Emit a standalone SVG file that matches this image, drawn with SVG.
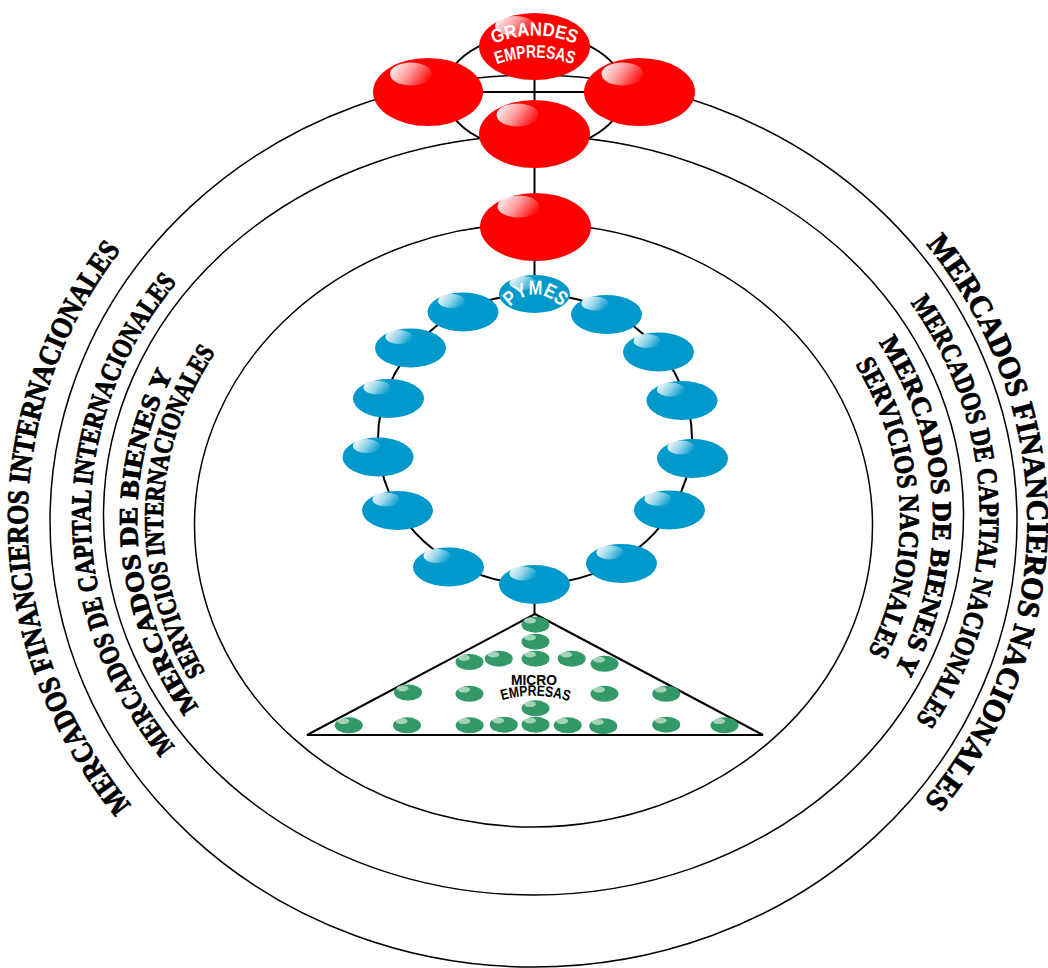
<svg xmlns="http://www.w3.org/2000/svg" width="1048" height="968" viewBox="0 0 1048 968">
<style>
.ring{fill:none;stroke:#000;stroke-width:1.5}
.conn{fill:none;stroke:#000;stroke-width:2}
.red{fill:#ff0000}
.blue{fill:#0099cc}
.green{fill:#339966}
.hl{fill:url(#hlg)}
.mkt{font-family:"Liberation Serif","Times New Roman",serif;font-weight:bold;fill:#000;stroke:#000;stroke-width:0.9;stroke-linejoin:round}
.lab{font-family:"Liberation Sans",Arial,sans-serif;font-weight:bold}
</style>
<defs>
<linearGradient id="hlg" x1="0" y1="0.3" x2="1" y2="0.7">
<stop offset="0" stop-color="#fff" stop-opacity="0.95"/>
<stop offset="0.45" stop-color="#fff" stop-opacity="0.6"/>
<stop offset="1" stop-color="#fff" stop-opacity="0"/>
</linearGradient>
<path id="pL1" d="M 134.8 809.1 A 506 468 0 0 1 124.1 245.9"/>
<path id="pL2" d="M 175.1 746.5 A 443 393 0 0 1 176.9 282.2"/>
<path id="pL3o" d="M 207.6 719 A 396.5 350 0 0 1 180.2 361"/>
<path id="pL3i" d="M 204.1 670 A 370.5 327 0 0 1 214.3 354"/>
<path id="pR1" d="M 926.4 245 A 494 456 0 0 1 924.4 800"/>
<path id="pR2" d="M 909 301 A 446.5 396 0 0 1 914.3 722"/>
<path id="pR3o" d="M 876.3 339 A 399.5 352 0 0 1 892.7 674"/>
<path id="pR3i" d="M 853.8 362 A 366.5 325 0 0 1 867 655"/>
<path id="pGr" d="M 491 45 Q 534.5 26 578 45"/>
<path id="pEm" d="M 495 65 Q 535 50 575 65"/>
<path id="pPy" d="M 507 310 Q 535 279 564 310"/>
<path id="pMe" d="M 500 701 Q 535 690 571 702"/>
</defs>
<rect width="1048" height="968" fill="#fff"/>

<g id="market-rings">
<ellipse id="ring-financieros" class="ring" cx="533.5" cy="521" rx="483.5" ry="446"/>
<ellipse id="ring-capital" class="ring" cx="533.5" cy="515.4" rx="430" ry="379.6"/>
<ellipse id="ring-bienes" class="ring" cx="533.5" cy="525.3" rx="339" ry="301.7"/>
</g>

<g id="market-labels">
<text class="mkt" font-size="30"><textPath href="#pL1" startOffset="50%" text-anchor="middle" textLength="600" lengthAdjust="spacingAndGlyphs">MERCADOS FINANCIEROS INTERNACIONALES</textPath></text>
<text class="mkt" font-size="28"><textPath href="#pL2" startOffset="50%" text-anchor="middle" textLength="505" lengthAdjust="spacingAndGlyphs">MERCADOS DE CAPITAL INTERNACIONALES</textPath></text>
<text class="mkt" font-size="26"><textPath href="#pL3o" startOffset="50%" text-anchor="middle" textLength="352" lengthAdjust="spacingAndGlyphs">MERCADOS DE BIENES Y</textPath></text>
<text class="mkt" font-size="27"><textPath href="#pL3i" startOffset="50%" text-anchor="middle" textLength="338" lengthAdjust="spacingAndGlyphs">SERVICIOS INTERNACIONALES</textPath></text>
<text class="mkt" font-size="31"><textPath href="#pR1" startOffset="50%" text-anchor="middle" textLength="605" lengthAdjust="spacingAndGlyphs">MERCADOS FINANCIEROS NACIONALES</textPath></text>
<text class="mkt" font-size="28"><textPath href="#pR2" startOffset="50%" text-anchor="middle" textLength="445" lengthAdjust="spacingAndGlyphs">MERCADOS DE CAPITAL NACIONALES</textPath></text>
<text class="mkt" font-size="27"><textPath href="#pR3o" startOffset="50%" text-anchor="middle" textLength="345" lengthAdjust="spacingAndGlyphs">MERCADOS DE BIENES Y</textPath></text>
<text class="mkt" font-size="28"><textPath href="#pR3i" startOffset="50%" text-anchor="middle" textLength="302" lengthAdjust="spacingAndGlyphs">SERVICIOS NACIONALES</textPath></text>
</g>

<g id="connectors">
<ellipse class="conn" cx="534.5" cy="92" rx="90" ry="58"/>
<line class="conn" x1="428" y1="92" x2="639.5" y2="92"/>
<line class="conn" x1="534.5" y1="46" x2="534.5" y2="294"/>
<ellipse class="conn" cx="535" cy="439" rx="157" ry="145"/>
<line class="conn" x1="534.5" y1="584" x2="534.5" y2="614"/>
</g>

<g id="micro-triangle">
<polygon points="535,614 307,735 763,735" fill="#fff" stroke="#000" stroke-width="2"/>
</g>

<g id="grandes-empresas">
<ellipse class="red" cx="534.5" cy="46.5" rx="55.5" ry="33.5"/>
<ellipse class="hl" cx="515" cy="26" rx="20" ry="10"/>
<text class="lab" font-size="19" fill="#fff"><textPath href="#pGr" startOffset="50%" text-anchor="middle" textLength="84" lengthAdjust="spacingAndGlyphs">GRANDES</textPath></text>
<text class="lab" font-size="18" fill="#fff"><textPath href="#pEm" startOffset="50%" text-anchor="middle" textLength="78" lengthAdjust="spacingAndGlyphs">EMPRESAS</textPath></text>
</g>
<g id="red-left"><ellipse class="red" cx="428" cy="92" rx="55" ry="34"/><ellipse class="hl" cx="411" cy="74" rx="21" ry="11.5"/></g>
<g id="red-right"><ellipse class="red" cx="639.5" cy="92" rx="55.5" ry="34"/><ellipse class="hl" cx="622.5" cy="74" rx="21" ry="11.5"/></g>
<g id="red-middle"><ellipse class="red" cx="534.5" cy="134" rx="55.5" ry="34"/><ellipse class="hl" cx="517.5" cy="115" rx="21" ry="11.5"/></g>
<g id="red-lower"><ellipse class="red" cx="535.5" cy="227" rx="55.5" ry="34"/><ellipse class="hl" cx="518.5" cy="206.5" rx="21" ry="11"/></g>

<g id="pymes">
<ellipse class="blue" cx="534.5" cy="294" rx="35.5" ry="19"/>
<ellipse class="hl" cx="523" cy="283" rx="13.5" ry="7"/>
<text class="lab" font-size="20" fill="#fff"><textPath href="#pPy" startOffset="50%" text-anchor="middle" textLength="58" lengthAdjust="spacingAndGlyphs">PYMES</textPath></text>
</g>
<g id="pyme-1"><ellipse class="blue" cx="463" cy="312" rx="35.5" ry="19.5"/><ellipse class="hl" cx="451.5" cy="301" rx="13.5" ry="7"/></g>
<g id="pyme-2"><ellipse class="blue" cx="606.5" cy="314.5" rx="35.5" ry="19.5"/><ellipse class="hl" cx="595" cy="303.5" rx="13.5" ry="7"/></g>
<g id="pyme-3"><ellipse class="blue" cx="410.5" cy="348" rx="35.5" ry="19.5"/><ellipse class="hl" cx="399" cy="337" rx="13.5" ry="7"/></g>
<g id="pyme-4"><ellipse class="blue" cx="658.5" cy="352" rx="35.5" ry="19.5"/><ellipse class="hl" cx="647" cy="341" rx="13.5" ry="7"/></g>
<g id="pyme-5"><ellipse class="blue" cx="388.5" cy="398.5" rx="35.5" ry="19.5"/><ellipse class="hl" cx="377" cy="387.5" rx="13.5" ry="7"/></g>
<g id="pyme-6"><ellipse class="blue" cx="682" cy="400.5" rx="35.5" ry="19.5"/><ellipse class="hl" cx="670.5" cy="389.5" rx="13.5" ry="7"/></g>
<g id="pyme-7"><ellipse class="blue" cx="378" cy="457" rx="35.5" ry="19.5"/><ellipse class="hl" cx="366.5" cy="446" rx="13.5" ry="7"/></g>
<g id="pyme-8"><ellipse class="blue" cx="692.5" cy="458.5" rx="35.5" ry="19.5"/><ellipse class="hl" cx="681" cy="447.5" rx="13.5" ry="7"/></g>
<g id="pyme-9"><ellipse class="blue" cx="397.5" cy="510.5" rx="35.5" ry="19.5"/><ellipse class="hl" cx="386" cy="499.5" rx="13.5" ry="7"/></g>
<g id="pyme-10"><ellipse class="blue" cx="669.5" cy="510" rx="35.5" ry="19.5"/><ellipse class="hl" cx="658" cy="499" rx="13.5" ry="7"/></g>
<g id="pyme-11"><ellipse class="blue" cx="448.5" cy="567" rx="35.5" ry="19.5"/><ellipse class="hl" cx="437" cy="556" rx="13.5" ry="7"/></g>
<g id="pyme-12"><ellipse class="blue" cx="621.5" cy="563.5" rx="35.5" ry="19.5"/><ellipse class="hl" cx="610" cy="552.5" rx="13.5" ry="7"/></g>
<g id="pyme-13"><ellipse class="blue" cx="534.5" cy="584.5" rx="35.5" ry="19.5"/><ellipse class="hl" cx="523" cy="573.5" rx="13.5" ry="7"/></g>

<g id="micro-empresas">
<g id="micro-dots">
<ellipse class="green" cx="535.5" cy="624.7" rx="14" ry="8"/>
<ellipse class="green" cx="535.5" cy="641.7" rx="14" ry="8"/>
<ellipse class="green" cx="469.5" cy="662" rx="14" ry="8"/>
<ellipse class="green" cx="498.8" cy="658.7" rx="14" ry="8"/>
<ellipse class="green" cx="535.5" cy="658.7" rx="14" ry="8"/>
<ellipse class="green" cx="571.7" cy="658.7" rx="14" ry="8"/>
<ellipse class="green" cx="604.5" cy="663.8" rx="14" ry="8"/>
<ellipse class="green" cx="408" cy="692.5" rx="14" ry="8"/>
<ellipse class="green" cx="469.5" cy="693.8" rx="14" ry="8"/>
<ellipse class="green" cx="604.5" cy="693.8" rx="14" ry="8"/>
<ellipse class="green" cx="666.2" cy="693.8" rx="14" ry="8"/>
<ellipse class="green" cx="535.5" cy="708.3" rx="14" ry="8"/>
<ellipse class="green" cx="348.8" cy="725.3" rx="14" ry="8"/>
<ellipse class="green" cx="407" cy="725.3" rx="14" ry="8"/>
<ellipse class="green" cx="469.7" cy="725.3" rx="14" ry="8"/>
<ellipse class="green" cx="503.8" cy="724.7" rx="14" ry="8"/>
<ellipse class="green" cx="535.5" cy="724.7" rx="14" ry="8"/>
<ellipse class="green" cx="567.8" cy="725.3" rx="14" ry="8"/>
<ellipse class="green" cx="603.3" cy="726.2" rx="14" ry="8"/>
<ellipse class="green" cx="666.2" cy="724.7" rx="14" ry="8"/>
<ellipse class="green" cx="724.5" cy="725.3" rx="14" ry="8"/>
</g>
<g id="micro-highlights" fill="#fff" fill-opacity="0.55">
<ellipse cx="530" cy="620.5" rx="6" ry="3"/>
<ellipse cx="530" cy="637.5" rx="6" ry="3"/>
<ellipse cx="464" cy="657.8" rx="6" ry="3"/>
<ellipse cx="493.3" cy="654.5" rx="6" ry="3"/>
<ellipse cx="530" cy="654.5" rx="6" ry="3"/>
<ellipse cx="566.2" cy="654.5" rx="6" ry="3"/>
<ellipse cx="599" cy="659.6" rx="6" ry="3"/>
<ellipse cx="402.5" cy="688.3" rx="6" ry="3"/>
<ellipse cx="464" cy="689.6" rx="6" ry="3"/>
<ellipse cx="599" cy="689.6" rx="6" ry="3"/>
<ellipse cx="660.7" cy="689.6" rx="6" ry="3"/>
<ellipse cx="530" cy="704.1" rx="6" ry="3"/>
<ellipse cx="343.3" cy="721.1" rx="6" ry="3"/>
<ellipse cx="401.5" cy="721.1" rx="6" ry="3"/>
<ellipse cx="464.2" cy="721.1" rx="6" ry="3"/>
<ellipse cx="498.3" cy="720.5" rx="6" ry="3"/>
<ellipse cx="530" cy="720.5" rx="6" ry="3"/>
<ellipse cx="562.3" cy="721.1" rx="6" ry="3"/>
<ellipse cx="597.8" cy="722" rx="6" ry="3"/>
<ellipse cx="660.7" cy="720.5" rx="6" ry="3"/>
<ellipse cx="719" cy="721.1" rx="6" ry="3"/>
</g>
<text class="lab" x="534" y="685" font-size="15" text-anchor="middle" fill="#000" textLength="46" lengthAdjust="spacingAndGlyphs">MICRO</text>
<text class="lab" font-size="15" fill="#000"><textPath href="#pMe" startOffset="50%" text-anchor="middle" textLength="68" lengthAdjust="spacingAndGlyphs">EMPRESAS</textPath></text>
</g>
</svg>
